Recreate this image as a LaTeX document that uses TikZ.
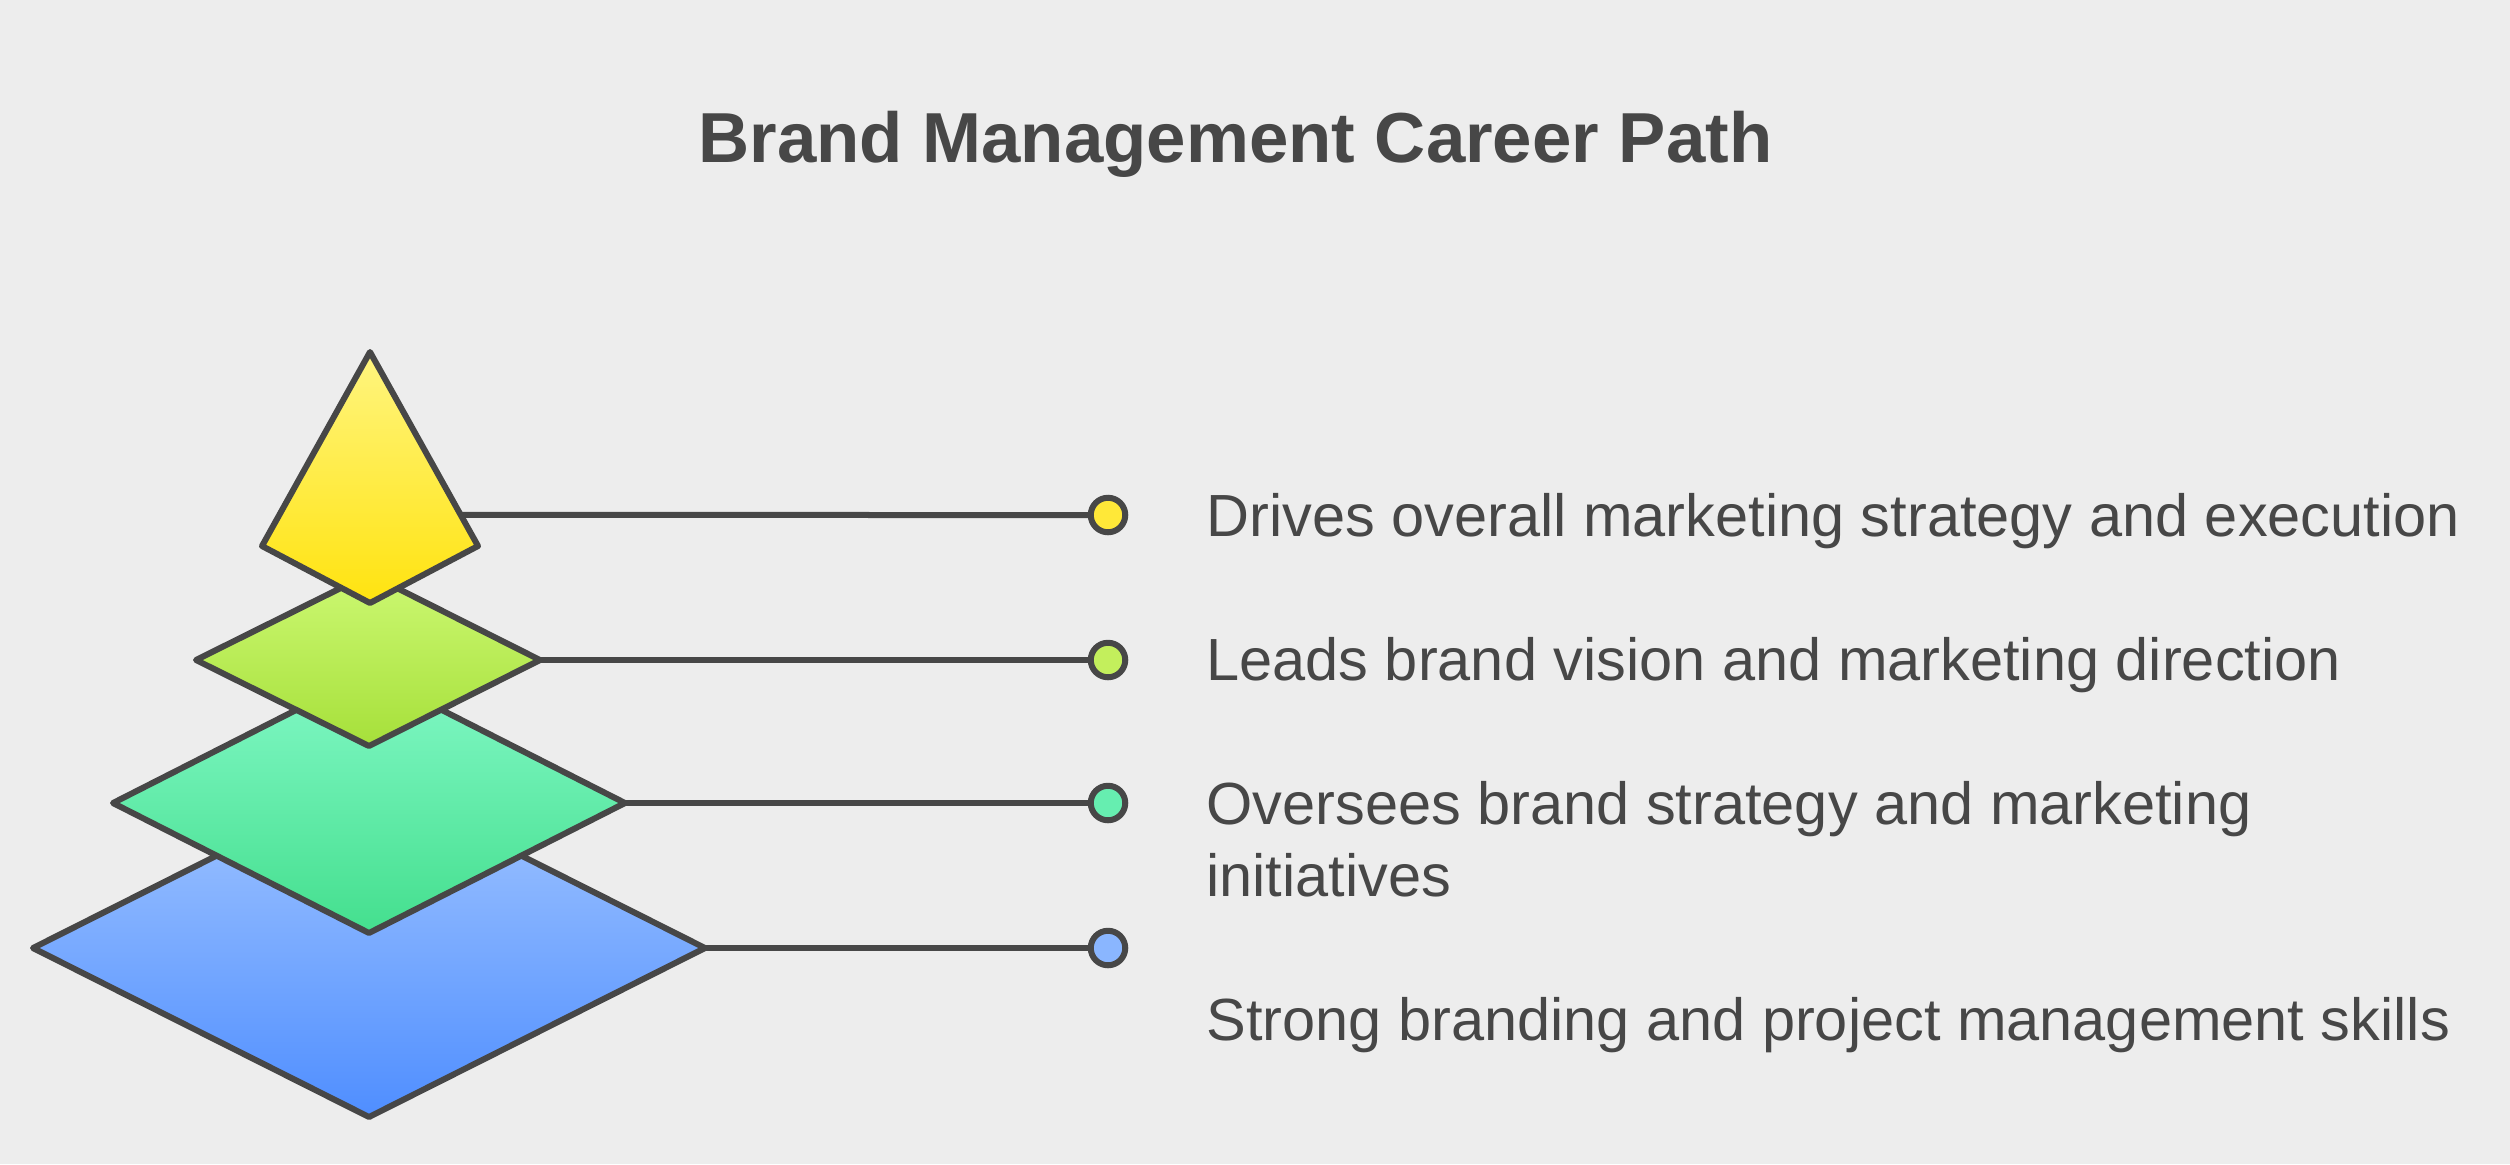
\documentclass[tikz,border=0pt]{standalone}
\usepackage{fontspec}
\setmainfont{Liberation Sans}
\usetikzlibrary{calc}
\definecolor{bg}{HTML}{EDEDED}
\definecolor{ink}{HTML}{474747}
\definecolor{yT}{HTML}{FFF580}
\definecolor{yB}{HTML}{FFE30F}
\definecolor{gyT}{HTML}{CCF872}
\definecolor{gyB}{HTML}{A6E03A}
\definecolor{gT}{HTML}{82F8C6}
\definecolor{gB}{HTML}{44DF8E}
\definecolor{bT}{HTML}{A2C6FF}
\definecolor{bB}{HTML}{4F8EFF}
\definecolor{yD}{HTML}{FFE838}
\definecolor{gyD}{HTML}{C3EF5C}
\definecolor{gD}{HTML}{66EEB0}
\definecolor{bD}{HTML}{8AB6FF}
\begin{document}
\begin{tikzpicture}[x=0.5pt,y=-0.5pt,
  tier/.style={draw=ink, line width=3pt, line join=round},
  conn/.style={draw=ink, line width=3pt},
  dot/.style={circle, draw=ink, line width=3pt, minimum size=17.25pt, inner sep=0pt},
  lbl/.style={anchor=base west, inner sep=0pt, text=ink, font=\fontsize{29.75}{36}\selectfont, align=left},
  ttl/.style={anchor=base west, inner sep=0pt, text=ink, font=\fontsize{35.4}{42}\selectfont\bfseries}]
\fill[bg] (0,0) rectangle (2510,1164);
\useasboundingbox (0,0) rectangle (2510,1164);
% title
\node[ttl] (title) at (698,162) {Brand Management Career Path};
% vertices
\coordinate (bL) at (33,948); \coordinate (bR) at (705,948);
\coordinate (bTop) at (369,779); \coordinate (bBot) at (369,1117);
\coordinate (gL) at (113,803); \coordinate (gR) at (625,803);
\coordinate (gTop) at (369,673); \coordinate (gBot) at (369,933);
\coordinate (yL) at (196,660); \coordinate (yR) at (540,660);
\coordinate (yTop) at (369,574); \coordinate (yBot) at (369,746);
\coordinate (tA) at (370,352); \coordinate (tL) at (262,546);
\coordinate (tR) at (478,546); \coordinate (tB) at (370,603);
\coordinate (tE) at ($(tA)!0.84!(tR)$);
% tiers
\path[tier, top color=bT, bottom color=bB] (bTop) -- (bR) -- (bBot) -- (bL) -- cycle;
\path[tier, top color=gT, bottom color=gB] (gTop) -- (gR) -- (gBot) -- (gL) -- cycle;
\path[tier, top color=gyT, bottom color=gyB] (yTop) -- (yR) -- (yBot) -- (yL) -- cycle;
\path[tier, top color=yT, bottom color=yB] (tA) -- (tR) -- (tB) -- (tL) -- cycle;
% dots
\node[dot, fill=yD] (d1) at (1108,515) {};
\node[dot, fill=gyD] (d2) at (1108,660) {};
\node[dot, fill=gD] (d3) at (1108,803) {};
\node[dot, fill=bD] (d4) at (1108,948) {};
% connectors
\draw[conn] (tE) -- (d1);
\draw[conn] (yR) -- (d2);
\draw[conn] (gR) -- (d3);
\draw[conn] (bR) -- (d4);
% labels
\node[lbl] (l1) at (1206,536) {Drives overall marketing strategy and execution};
\node[lbl] (l2) at (1206,680) {Leads brand vision and marketing direction};
\node[lbl] (l3) at (1206,896) {Oversees brand strategy and marketing\\initiatives};
\node[lbl] (l4) at (1206,1040) {Strong branding and project management skills};
\end{tikzpicture}
\end{document}
